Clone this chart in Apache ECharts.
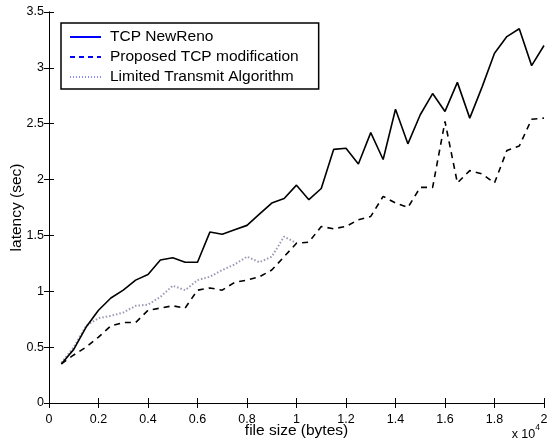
<!DOCTYPE html>
<html>
<head>
    <meta charset="utf-8">
    <title>latency vs file size</title>
    <script src="https://cdn.jsdelivr.net/npm/echarts@6/dist/echarts.min.js"></script>
    <style>
        html, body { margin: 0; padding: 0; background: #fff; }
        #chart { width: 548px; height: 442px; }
    </style>
</head>
<body>
<div id="chart"></div>
<script type="text/javascript">

    /* file size, x 10^4 bytes */
    var sizes = [0.05, 0.1, 0.15, 0.2, 0.25, 0.3, 0.35, 0.4, 0.45, 0.5,
                 0.55, 0.6, 0.65, 0.7, 0.75, 0.8, 0.85, 0.9, 0.95, 1.0,
                 1.05, 1.1, 1.15, 1.2, 1.25, 1.3, 1.35, 1.4, 1.45, 1.5,
                 1.55, 1.6, 1.65, 1.7, 1.75, 1.8, 1.85, 1.9, 1.95, 2.0];

    // latency (sec)
    var newReno = [0.35, 0.48, 0.68, 0.83, 0.94, 1.01, 1.10, 1.15, 1.28, 1.30,
                   1.26, 1.26, 1.53, 1.51, 1.55, 1.59, 1.69, 1.79, 1.83, 1.95,
                   1.82, 1.92, 2.27, 2.28, 2.14, 2.42, 2.18, 2.63, 2.32, 2.58,
                   2.77, 2.61, 2.87, 2.55, 2.83, 3.13, 3.28, 3.35, 3.02, 3.20];

    var proposed = [0.35, 0.43, 0.50, 0.59, 0.69, 0.72, 0.72, 0.83, 0.85, 0.87,
                    0.85, 1.01, 1.03, 1.01, 1.08, 1.10, 1.13, 1.19, 1.31, 1.43,
                    1.44, 1.58, 1.56, 1.58, 1.64, 1.67, 1.85, 1.79, 1.75, 1.93,
                    1.93, 2.52, 1.97, 2.08, 2.05, 1.97, 2.26, 2.30, 2.54, 2.55];

    // limited transmit only runs up to 1.0
    var limited = [0.36, 0.50, 0.69, 0.76, 0.78, 0.81, 0.87, 0.88, 0.95, 1.05,
                   1.01, 1.10, 1.13, 1.19, 1.24, 1.31, 1.26, 1.31, 1.49, 1.43];

    var xTicks = [0, 0.2, 0.4, 0.6, 0.8, 1, 1.2, 1.4, 1.6, 1.8, 2];
    var yTicks = [0, 0.5, 1, 1.5, 2, 2.5, 3, 3.5];

    function pairs(xs, ys) {
        var out = [];
        for (var i = 0; i < ys.length; i++) {
            out.push([xs[i], ys[i]]);
        }
        return out;
    }

    function tickLabel(list) {
        return function (v) {
            var t = list.filter(function (k) { return Math.abs(k - v) < 1e-6; });
            return t.length ? String(t[0]) : '';
        };
    }

    var font = 'Liberation Sans, Arial, sans-serif';
    var myChart = echarts.init(document.getElementById('chart'));

    var tickX = {
        type: 'value', min: 0, max: 2, interval: 0.2,
        axisLine: {show: true, lineStyle: {color: '#000', width: 1}},
        axisTick: {show: true, inside: true, length: 5, lineStyle: {color: '#000'}},
        splitLine: {show: false}
    };
    var tickY = {
        type: 'value', min: 0, max: 3.5, interval: 0.5,
        axisLine: {show: true, lineStyle: {color: '#000', width: 1}},
        axisTick: {show: true, inside: true, length: 5, lineStyle: {color: '#000'}},
        splitLine: {show: false}
    };

    myChart.setOption({
        animation: false,
        backgroundColor: '#fff',
        textStyle: {fontFamily: font},
        grid: {left: 49, right: 4, top: 12, bottom: 39, containLabel: false, outerBoundsMode: 'none'},
        legend: {
            orient: 'vertical',
            left: 61,
            top: 23,
            padding: [6, 20, 4, 8],
            itemGap: 4,
            itemWidth: 31,
            itemHeight: 14,
            borderColor: '#000',
            borderWidth: 1.5,
            backgroundColor: '#fff',
            textStyle: {fontFamily: font, fontSize: 15.5, color: '#000', padding: [0, 0, 0, 4]},
            data: [
                {name: 'TCP NewReno', itemStyle: {opacity: 0},
                 lineStyle: {color: '#0000ff', width: 2}},
                {name: 'Proposed TCP modification', itemStyle: {opacity: 0},
                 lineStyle: {color: '#0000ff', width: 2, type: [5, 4]}},
                {name: 'Limited Transmit Algorithm', itemStyle: {opacity: 0},
                 lineStyle: {color: '#8a8aff', width: 2, type: [1, 2]}}
            ]
        },
        xAxis: [
            Object.assign({}, tickX, {
                position: 'bottom',
                name: 'file size (bytes)',
                nameLocation: 'middle',
                nameGap: 20,
                nameMoveOverlap: false,
                nameTextStyle: {fontFamily: font, fontSize: 15.5, color: '#000'},
                axisLabel: {color: '#000', fontSize: 12.5, fontFamily: font, margin: 10,
                            formatter: tickLabel(xTicks)}
            }),
            Object.assign({}, tickX, {position: 'top', axisLabel: {show: false}})
        ],
        yAxis: [
            Object.assign({}, tickY, {
                position: 'left',
                name: 'latency (sec)',
                nameLocation: 'middle',
                nameGap: 24,
                nameMoveOverlap: false,
                nameRotate: 90,
                nameTextStyle: {fontFamily: font, fontSize: 15.5, color: '#000'},
                axisLabel: {color: '#000', fontSize: 12.5, fontFamily: font, margin: 5,
                            formatter: tickLabel(yTicks)}
            }),
            Object.assign({}, tickY, {position: 'right', axisLabel: {show: false}})
        ],
        graphic: [{
            type: 'text',
            right: 8,
            bottom: 1,
            style: {
                text: '{b|x 10}{s|4}',
                rich: {
                    b: {fontFamily: font, fontSize: 12.5, fill: '#000', verticalAlign: 'bottom'},
                    s: {fontFamily: font, fontSize: 8.5, fill: '#000', verticalAlign: 'top', padding: [0, 0, 9, 0]}
                }
            }
        }],
        series: [
            {
                name: 'TCP NewReno',
                type: 'line',
                symbol: 'none',
                data: pairs(sizes, newReno),
                lineStyle: {color: '#000', width: 1.6},
                itemStyle: {color: '#0000ff'},
                z: 3
            },
            {
                name: 'Proposed TCP modification',
                type: 'line',
                symbol: 'none',
                data: pairs(sizes, proposed),
                lineStyle: {color: '#000', width: 1.6, type: [6, 5]},
                itemStyle: {color: '#0000ff'},
                z: 3
            },
            {
                name: 'Limited Transmit Algorithm',
                type: 'line',
                symbol: 'none',
                data: pairs(sizes, limited),
                lineStyle: {color: '#9a9ab4', width: 2, type: [1.5, 2]},
                itemStyle: {color: '#8a8aff'},
                z: 2
            }
        ]
    });

</script>
</body>
</html>
